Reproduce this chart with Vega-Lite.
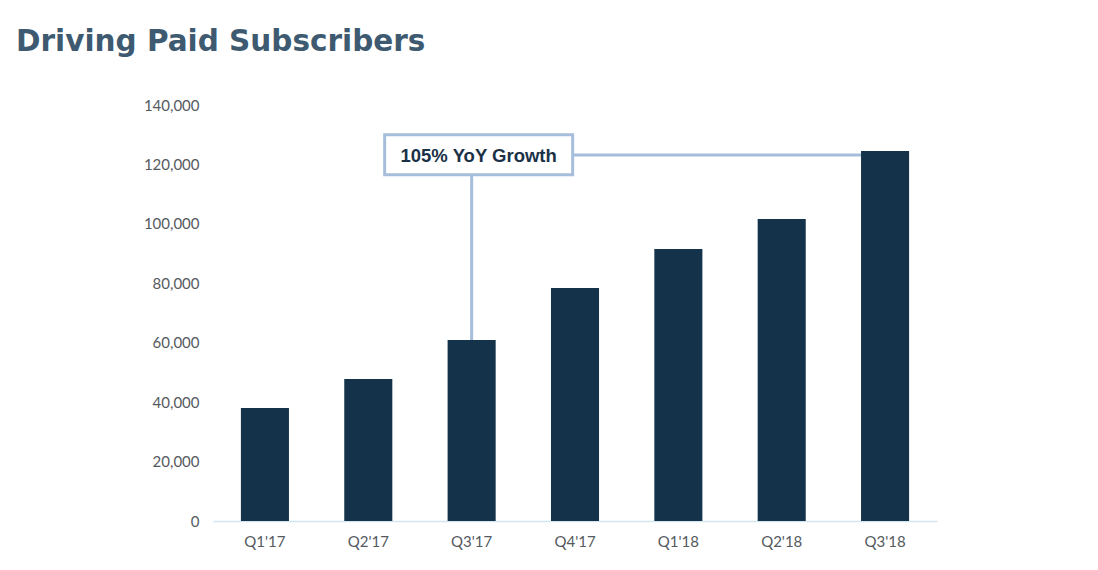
{
  "$schema": "https://vega.github.io/schema/vega-lite/v6.json",
  "autosize": {"type": "none"},
  "width": 724,
  "height": 416,
  "padding": {"left": 213, "top": 105, "right": 161, "bottom": 49},
  "background": "white",
  "title": {
    "text": "Driving Paid Subscribers",
    "anchor": "start",
    "frame": "group",
    "dx": -197,
    "offset": 41,
    "font": "DejaVu Sans",
    "fontSize": 29.5,
    "fontWeight": "bold",
    "color": "#3e5a70",
    "limit": 0
  },
  "config": {
    "view": {"stroke": null},
    "axis": {"labelFont": "Lato", "labelFontSize": 15, "labelColor": "#555a60", "title": null, "grid": false, "ticks": false},
    "axisX": {"labelAngle": 0, "labelAlign": "center", "labelPadding": 13, "domainColor": "#d3e6f0", "domainWidth": 1.5},
    "axisY": {"domain": false, "labelPadding": 14}
  },
  "datasets": {
    "subs": [
      {"quarter": "Q1'17", "subscribers": 38000},
      {"quarter": "Q2'17", "subscribers": 47800},
      {"quarter": "Q3'17", "subscribers": 60900},
      {"quarter": "Q4'17", "subscribers": 78400},
      {"quarter": "Q1'18", "subscribers": 91500},
      {"quarter": "Q2'18", "subscribers": 101600},
      {"quarter": "Q3'18", "subscribers": 124500}
    ],
    "hline": [{"from": "Q3'17", "to": "Q3'18", "level": 123200}],
    "vline": [{"quarter": "Q3'17", "low": 60900, "high": 123200}],
    "box": [{"quarter": "Q3'17", "top": 130000, "bottom": 116500, "mid": 123200, "label": "105% YoY Growth"}]
  },
  "layer": [
    {
      "data": {"name": "subs"},
      "mark": {"type": "bar", "color": "#14334a", "opacity": 0},
      "encoding": {
        "x": {
          "field": "quarter",
          "type": "nominal",
          "sort": null,
          "scale": {"domain": ["Q1'17", "Q2'17", "Q3'17", "Q4'17", "Q1'18", "Q2'18", "Q3'18"], "paddingInner": 0.535, "paddingOuter": 0.27},
          "axis": {"labelAngle": 0, "labelAlign": "center"}
        },
        "y": {
          "field": "subscribers",
          "type": "quantitative",
          "scale": {"domain": [0, 140000], "nice": false},
          "axis": {"values": [0, 20000, 40000, 60000, 80000, 100000, 120000, 140000], "format": ",d"}
        }
      }
    },
    {
      "data": {"name": "hline"},
      "mark": {"type": "rule", "color": "#a6bedc", "strokeWidth": 3},
      "encoding": {
        "x": {"field": "from", "type": "nominal"},
        "x2": {"field": "to"},
        "y": {"field": "level", "type": "quantitative"}
      }
    },
    {
      "data": {"name": "vline"},
      "mark": {"type": "rule", "color": "#a6bedc", "strokeWidth": 3},
      "encoding": {
        "x": {"field": "quarter", "type": "nominal"},
        "y": {"field": "low", "type": "quantitative"},
        "y2": {"field": "high"}
      }
    },
    {
      "data": {"name": "subs"},
      "mark": {"type": "bar", "color": "#14334a"},
      "encoding": {
        "x": {"field": "quarter", "type": "nominal", "sort": null},
        "y": {"field": "subscribers", "type": "quantitative"}
      }
    },
    {
      "data": {"name": "box"},
      "mark": {"type": "bar", "width": 188, "xOffset": 7, "fill": "white", "stroke": "#a6bedc", "strokeWidth": 3},
      "encoding": {
        "x": {"field": "quarter", "type": "nominal"},
        "y": {"field": "top", "type": "quantitative"},
        "y2": {"field": "bottom"}
      }
    },
    {
      "data": {"name": "box"},
      "mark": {"type": "text", "xOffset": 7, "dy": 1, "font": "Liberation Sans", "fontSize": 18.5, "fontWeight": "bold", "color": "#1b3148", "align": "center", "baseline": "middle"},
      "encoding": {
        "x": {"field": "quarter", "type": "nominal"},
        "y": {"field": "mid", "type": "quantitative"},
        "text": {"field": "label"}
      }
    }
  ]
}
